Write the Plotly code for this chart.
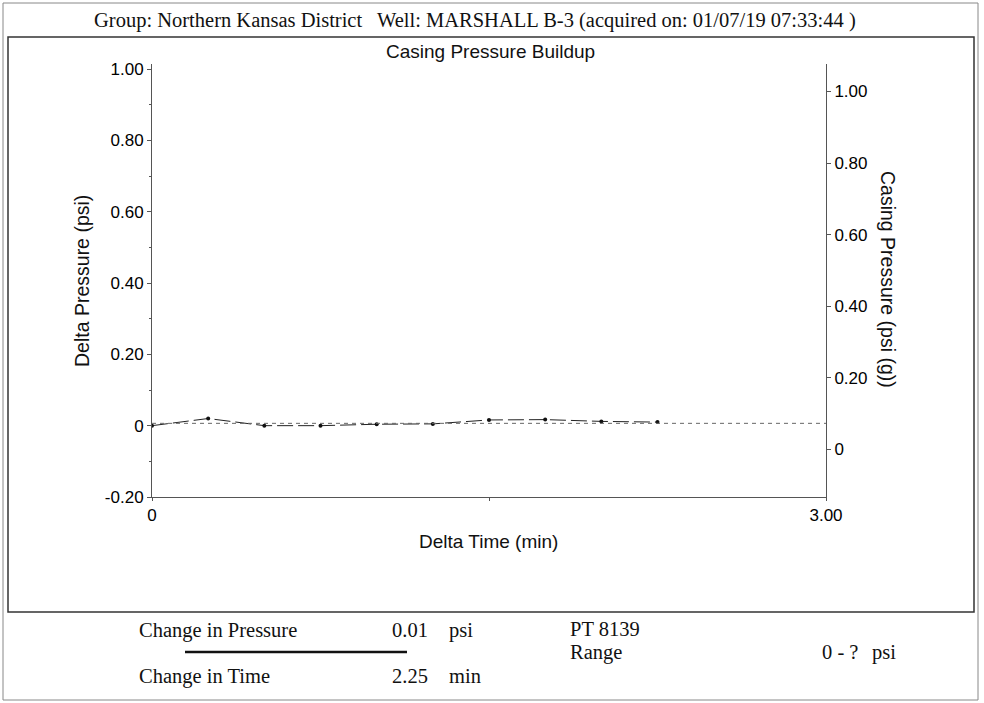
import plotly.graph_objects as go

# ---- data ----
dp_time = [0, 0.25, 0.5, 0.75, 1.0, 1.25, 1.5, 1.75, 2.0, 2.25]
dp_vals = [0, 0.02, 0, 0, 0.004, 0.005, 0.016, 0.017, 0.012, 0.01]
cp_time = [0, 0.25, 0.5, 0.75, 1.0, 1.25, 1.5, 1.75, 2.0, 2.25, 2.5, 2.75, 3.0]
cp_vals = [0.072, 0.072, 0.072, 0.072, 0.072, 0.072, 0.072, 0.072, 0.072, 0.072, 0.072, 0.072, 0.072]
x_ticks = [0, 1.5, 3.0]
x_labels = ["0", "", "3.00"]
yl_ticks = [-0.2, 0, 0.2, 0.4, 0.6, 0.8, 1.0]
yl_labels = ["-0.20", "0", "0.20", "0.40", "0.60", "0.80", "1.00"]
yr_ticks = [0, 0.2, 0.4, 0.6, 0.8, 1.0]
yr_labels = ["0", "0.20", "0.40", "0.60", "0.80", "1.00"]

FW, FH = 984, 703
L, R, T, B = 152, 826, 64, 497
W, H = R - L, B - T

def px(x):
    return (x - L) / W

def py(y):
    return (B - y) / H

SANS = "Liberation Sans, Arial, sans-serif"
SERIF = "Liberation Serif, Times New Roman, serif"
AX = "#555555"

fig = go.Figure()
fig.add_trace(go.Scatter(
    x=cp_time, y=cp_vals, yaxis="y2", mode="lines",
    line=dict(color="#666666", width=1, dash="4px,4px"),
    showlegend=False, hoverinfo="skip"))
fig.add_trace(go.Scatter(
    x=dp_time, y=dp_vals, mode="lines+markers",
    line=dict(color="#222222", width=1, dash="16px,5px"),
    marker=dict(color="#111111", size=4),
    showlegend=False))

fig.update_layout(
    width=FW, height=FH,
    margin=dict(l=L, r=FW - R, t=T, b=FH - B, pad=0),
    paper_bgcolor="white", plot_bgcolor="white",
    xaxis=dict(range=[0, 3.0], tickvals=x_ticks, ticktext=x_labels,
               showline=True, linecolor=AX, linewidth=1, ticks="outside",
               ticklen=3, tickcolor=AX, showgrid=False, zeroline=False,
               tickfont=dict(family=SANS, size=17, color="#000")),
    yaxis=dict(range=[-0.2, 1.0 + 5 / 357.0], tickvals=yl_ticks, ticktext=yl_labels,
               showline=True, linecolor=AX, linewidth=1, ticks="outside",
               ticklen=4, tickcolor=AX, showgrid=False, zeroline=False,
               minor=dict(dtick=0.1, ticks="outside", ticklen=2, tickcolor=AX),
               tickfont=dict(family=SANS, size=17, color="#000")),
    yaxis2=dict(range=[-0.134, 1.077], overlaying="y", side="right",
                tickvals=yr_ticks, ticktext=yr_labels,
                showline=True, linecolor=AX, linewidth=1, ticks="outside",
                ticklen=4, tickcolor=AX, showgrid=False, zeroline=False,
                tickfont=dict(family=SANS, size=17, color="#000")),
)

def ann(text, x, y, size=18, family=SANS, xanchor="center", angle=0):
    fig.add_annotation(text=text, x=px(x), y=py(y), xref="paper", yref="paper",
                       showarrow=False, xanchor=xanchor, yanchor="middle",
                       textangle=angle,
                       font=dict(family=family, size=size, color="#111"))

HS = 20.5
ann("Group: Northern Kansas District", 92, 20, HS, SERIF, "left")
ann("Well: MARSHALL B-3 (acquired on: 01/07/19 07:33:44 )", 375, 20, HS, SERIF, "left")
ann("Casing Pressure Buildup", 490, 52, 19)
ann("Delta Pressure (psi)", 82, 281, 19.5, angle=-90)
ann("Casing Pressure (psi (g))", 888, 279, 19.5, angle=90)
ann("Delta Time (min)", 488, 541, 19)

ann("Change in Pressure", 137, 630, HS, SERIF, "left")
ann("0.01", 390, 630, HS, SERIF, "left")
ann("psi", 447, 630, HS, SERIF, "left")
ann("Change in Time", 137, 676, HS, SERIF, "left")
ann("2.25", 390, 676, HS, SERIF, "left")
ann("min", 447, 676, HS, SERIF, "left")
ann("PT 8139", 568, 629, HS, SERIF, "left")
ann("Range", 568, 652, HS, SERIF, "left")
ann("0 - ?", 820, 652, HS, SERIF, "left")
ann("psi", 870, 652, HS, SERIF, "left")

def rect(x0, y0, x1, y1, color, width):
    fig.add_shape(type="rect", xref="paper", yref="paper",
                  x0=px(x0), y0=py(y0), x1=px(x1), y1=py(y1),
                  line=dict(color=color, width=width))

rect(3, 3, 978, 700, "#888888", 1)
rect(8, 37, 974, 612, "#333333", 1.5)
fig.add_shape(type="line", xref="paper", yref="paper",
              x0=px(185), y0=py(652), x1=px(407), y1=py(652),
              line=dict(color="#111111", width=2.5))

fig.write_html("out.html", config={"displayModeBar": False},
               post_script="document.body.style.margin='0px';document.body.style.overflow='hidden';")
